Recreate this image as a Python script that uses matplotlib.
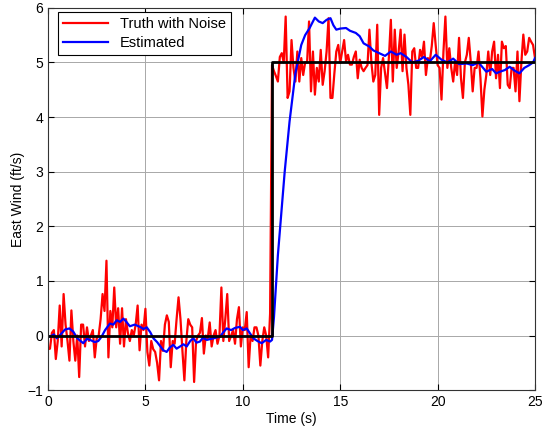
import numpy as np
import matplotlib
matplotlib.use('Agg')
import matplotlib.pyplot as plt

plt.rcParams['font.family'] = ['Liberation Sans', 'DejaVu Sans']

# noisy truth, sampled every 0.1 s from t = 0
red_pre = [-0.25, -0.24, 0.05, 0.1, -0.43, -0.1, 0.55, -0.2, 0.76, 0.2,
           -0.1, -0.46, 0.46, -0.1, -0.46, 0.0, -0.76, 0.2, 0.2, -0.2,
           0.15, -0.1, 0.0, 0.1, -0.4, -0.05, 0.0, 0.3, 0.76, 0.45,
           1.37, -0.4, 0.45, 0.15, 0.88, 0.15, 0.5, -0.15, 0.5, -0.2,
           0.3, 0.05, -0.1, 0.1, 0.0, 0.2, 0.55, -0.27, 0.2, 0.1,
           0.49, -0.3, -0.55, -0.1, -0.25, -0.3, -0.5, -0.82, -0.1, -0.28,
           0.2, 0.37, 0.25, -0.58, -0.1, -0.15, 0.3, 0.7, 0.3, -0.28,
           -0.82, -0.1, 0.3, 0.2, 0.15, -0.85, -0.1, 0.0, 0.05, 0.32,
           -0.33, 0.0, -0.05, 0.24, -0.2, 0.0, 0.1, -0.15, 0.0, 0.88,
           -0.1, 0.3, 0.76, -0.1, 0.0, 0.1, -0.15, 0.3, 0.52, -0.2,
           0.15, 0.1, 0.43, -0.58, 0.0, -0.1, 0.15, 0.15, 0.0, -0.55,
           -0.1, 0.15, 0.0, -0.4, 0.4]
red_post = [4.95, 4.84, 4.75, 4.65, 5.1, 5.17, 5.0, 5.84, 4.35, 4.47,
            5.41, 4.9, 4.65, 5.2, 4.65, 5.08, 4.77, 5.0, 5.0, 5.75,
            4.47, 5.2, 4.41, 4.9, 4.65, 5.23, 4.59, 4.84, 5.2, 5.81,
            4.35, 4.35, 4.8, 5.2, 5.32, 4.99, 5.2, 5.41, 5.02, 5.14,
            4.96, 4.96, 5.1, 5.2, 4.71, 5.05, 4.9, 4.84, 4.9, 4.95,
            5.6, 5.0, 4.65, 4.77, 5.69, 4.04, 4.9, 5.08, 4.8, 4.53,
            5.1, 5.78, 4.65, 5.6, 4.9, 5.2, 5.6, 4.84, 5.51, 4.9,
            4.59, 4.04, 5.2, 5.26, 4.9, 4.9, 5.23, 5.1, 5.38, 4.77,
            5.08, 5.02, 5.3, 5.72, 5.32, 4.95, 4.9, 4.32, 5.2, 5.84,
            4.9, 5.26, 4.9, 4.65, 5.02, 4.77, 5.45, 4.71, 4.35, 5.0,
            5.14, 5.45, 5.02, 4.47, 4.9, 4.9, 5.2, 4.71, 4.01, 4.5,
            4.77, 5.2, 4.77, 5.2, 5.38, 4.71, 5.14, 4.53, 5.38, 5.26,
            5.3, 4.59, 4.53, 4.9, 4.9, 4.47, 5.2, 4.29, 5.0, 5.51,
            5.14, 5.2, 5.45, 5.38, 5.32, 5.08]
red = red_pre + red_post
t_red = np.arange(len(red)) * 0.1

# estimate
est_t = [0.0, 0.1, 0.3, 0.45, 0.6, 0.87, 1.1, 1.3, 1.5, 1.81, 2.0, 2.16, 2.4,
         2.58, 2.75, 2.93, 3.18, 3.35, 3.53, 3.7, 3.87, 4.0, 4.2, 4.45, 4.72,
         4.9, 5.07, 5.25, 5.41, 5.6, 5.92, 6.09, 6.25, 6.43, 6.6, 6.78, 6.95,
         7.12, 7.3, 7.46, 7.62, 7.8, 7.95, 8.15, 8.5, 8.83, 9.0, 9.17, 9.4,
         9.6, 9.86, 10.0, 10.2, 10.35, 10.54, 10.75, 10.97, 11.2, 11.4, 11.5,
         11.6, 11.8, 12.15, 12.4, 12.7, 13.0, 13.2, 13.43, 13.7, 13.9, 14.1,
         14.3, 14.5, 14.65, 14.8, 15.0, 15.3, 15.5, 15.8, 16.0, 16.2, 16.5,
         16.7, 17.0, 17.3, 17.6, 17.9, 18.1, 18.4, 18.7, 19.0, 19.3, 19.6,
         19.9, 20.2, 20.5, 20.8, 21.1, 21.5, 21.8, 22.1, 22.5, 22.8, 23.0,
         23.2, 23.45, 23.7, 23.95, 24.2, 24.45, 24.7, 24.9, 25.0]
est_v = [0.0, -0.02, 0.02, -0.05, 0.0, 0.11, 0.13, 0.07, -0.05, -0.14, -0.06,
         -0.08, -0.12, -0.1, -0.02, 0.1, 0.22, 0.2, 0.28, 0.25, 0.31, 0.26,
         0.17, 0.2, 0.16, 0.12, 0.15, 0.06, -0.05, -0.12, -0.27, -0.3, -0.22,
         -0.17, -0.24, -0.2, -0.16, -0.2, -0.1, -0.05, -0.13, -0.11, -0.04,
         -0.08, -0.05, -0.02, 0.06, 0.13, 0.1, 0.14, 0.16, 0.1, 0.13, 0.05,
         -0.05, -0.1, -0.14, -0.08, -0.11, -0.08, 0.34, 1.47, 3.0, 3.92, 4.8,
         5.32, 5.5, 5.63, 5.82, 5.75, 5.72, 5.78, 5.81, 5.68, 5.6, 5.62,
         5.63, 5.58, 5.54, 5.48, 5.35, 5.29, 5.22, 5.17, 5.12, 5.2, 5.14,
         5.17, 5.1, 5.0, 5.03, 5.1, 5.02, 5.14, 5.05, 5.0, 5.07, 4.97, 4.98,
         4.95, 5.0, 4.83, 4.88, 4.8, 4.83, 4.86, 4.92, 4.85, 4.8, 4.9, 4.95,
         5.0, 5.08]

# truth step
truth_t = [0, 11.5, 11.5, 25]
truth_v = [0, 0, 5, 5]

fig = plt.figure(figsize=(5.42, 4.34), dpi=100)
ax = fig.add_axes([0.0886, 0.101, 0.8985, 0.881])

ax.plot(t_red, red, color='#ff0000', lw=1.6, label='Truth with Noise')
ax.plot(est_t, est_v, color='#0000ff', lw=1.6, label='Estimated')
ax.plot(truth_t, truth_v, color='k', lw=2.0)

ax.set_xlim(0, 25)
ax.set_ylim(-1, 6)
ax.set_xticks([0, 5, 10, 15, 20, 25])
ax.set_yticks(range(-1, 7))
ax.grid(True, color='#a8a8a8', lw=0.7)
ax.tick_params(direction='in', top=True, right=True, length=4, labelsize=10)
for s in ax.spines.values():
    s.set_linewidth(0.8)
    s.set_color('#333333')

ax.set_xlabel('Time (s)', fontsize=10, labelpad=2)
ax.set_ylabel('East Wind (ft/s)', fontsize=10, labelpad=2)

leg = ax.legend(loc='upper left', bbox_to_anchor=(0.0205, 0.99), borderaxespad=0,
                fancybox=False, edgecolor='k', framealpha=1, fontsize=10.5,
                handlelength=3.1, labelspacing=0.35, borderpad=0.35)
leg.get_frame().set_linewidth(0.8)

fig.savefig('out.png', dpi=100)
